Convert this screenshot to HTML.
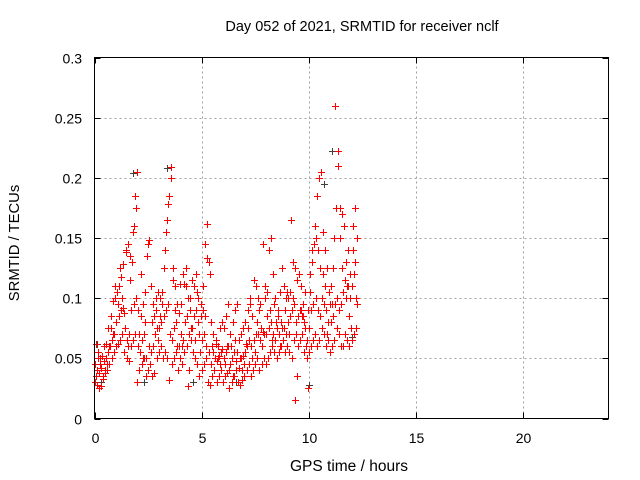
<!DOCTYPE html>
<html><head><meta charset="utf-8"><style>
body{margin:0;background:#fff;}
svg{display:block;font-family:"Liberation Sans",sans-serif;}
</style></head><body>
<svg id="chart" width="640" height="480">
<rect width="640" height="480" fill="#fff"/>
<text x="362" y="31" font-size="14.5" text-anchor="middle">Day 052 of 2021, SRMTID for receiver nclf</text>
<text x="349" y="471" font-size="15.5" text-anchor="middle">GPS time / hours</text>
<text transform="translate(19,243) rotate(-90)" font-size="14.8" text-anchor="middle">SRMTID / TECUs</text>
<g id="grid"></g><g id="axes"></g><g id="pts"></g>
<rect x="94.5" y="57.5" width="514" height="361" fill="none" stroke="#000"/>
</svg>
<script>
const xTicks=[0,5,10,15,20];
const yTicks=[0,0.05,0.1,0.15,0.2,0.25,0.3];
const yTickLabels=["0","0.05","0.1","0.15","0.2","0.25","0.3"];
const sampleStartHour=0, sampleStepHour=0.1, valueScale=0.001;
const bandLow=[30,28,25,27,35,38,40,45,50,55,60,62,65,70,55,50,48,60,65,70,30,40,45,50,35,40,45,35,38,50,55,60,50,55,50,32,45,50,55,40,50,45,55,60,40,65,55,50,45,35,40,45,50,30,28,35,40,30,35,40,30,35,38,25,30,35,40,30,28,32,35,40,45,35,40,45,50,40,45,50,45,50,55,60,55,50,55,60,65,55,60,55,50,65,70,60,65,70,55,50,55,60,65,70,60,65,75,70,60,65,55,60,65,75,70,60,60,70,65,60,65,70,75];
const bandMid=[45,40,38,42,48,50,55,60,65,70,80,85,90,92,75,65,70,90,95,100,60,55,65,70,50,60,55,60,70,75,75,80,85,90,95,70,65,75,80,60,70,65,80,85,70,75,85,90,80,55,65,70,60,55,45,55,50,48,52,55,50,55,60,45,50,55,48,42,50,52,55,60,65,60,65,70,70,65,60,70,70,75,80,70,65,75,70,80,75,70,80,85,90,95,80,85,90,85,75,65,75,90,95,100,90,85,100,95,90,80,80,85,95,100,90,95,105,100,110,100,110,120,100];
const bandHigh=[62,55,50,52,60,62,75,85,98,100,105,110,118,128,138,145,135,130,160,175,90,85,95,105,135,148,110,95,100,105,100,105,125,155,178,200,115,110,95,88,95,120,110,100,90,115,110,120,100,95,110,145,162,130,80,70,65,60,75,80,75,85,95,70,80,90,95,65,70,75,80,90,100,85,115,110,100,95,145,110,105,140,150,120,100,90,105,125,110,100,100,105,130,125,115,120,110,95,105,90,120,130,145,150,140,125,155,140,125,105,110,125,260,222,175,170,160,130,140,120,160,175,150];
const bandScatter=[35,50,45,33,40,45,60,75,70,110,95,125,100,88,140,60,115,155,185,205,70,120,50,80,145,45,80,85,90,65,85,95,140,165,185,209,125,90,60,112,60,112,125,27,100,75,65,105,70,85,90,85,133,120,60,40,62,50,45,58,45,60,40,60,35,65,55,50,40,45,62,75,95,50,55,80,90,75,72,100,85,90,65,95,80,85,60,75,90,105,70,165,100,15,35,90,85,80,60,25,105,140,160,185,200,205,120,110,70,95,95,150,175,210,150,125,115,110,85,75,140,130,95];
const greyHours=[0.1,0.3,1.8,2.3,3.4,4.6,6.6,10.0,11.1,10.7,12.0];
const greyValues=[0.062,0.03,0.204,0.03,0.208,0.03,0.03,0.028,0.222,0.195,0.068];
const X0=94.5,X1=608.5,Y0=418.5,Y1=57.5;
const xs=h=>X0+(h/24)*(X1-X0);
const ys=v=>Y0-(v/0.3)*(Y0-Y1);
const NS="http://www.w3.org/2000/svg";
const grid=document.getElementById('grid'),axes=document.getElementById('axes'),pts=document.getElementById('pts');
function mk(tag,at,parent){const e=document.createElementNS(NS,tag);for(const k in at)e.setAttribute(k,at[k]);parent.appendChild(e);return e;}
yTicks.forEach((v,i)=>{const y=Math.round(ys(v))+0.5;
 if(i>0&&i<yTicks.length-1){const g=mk('line',{x1:X0,x2:X1,y1:y,y2:y,stroke:'#a0a0a0','stroke-dasharray':'2,3'},grid);
 
 }
 const t=mk('line',{x1:X0,x2:X0+6,y1:y,y2:y,stroke:'#000'},axes);
 
 
 const t2=mk('line',{x1:X1-6,x2:X1,y1:y,y2:y,stroke:'#000'},axes);
 
 
 const l=mk('text',{x:82,y:y+5,'font-size':14,'text-anchor':'end',fill:'#000'},axes);l.textContent=yTickLabels[i];
 
 });
xTicks.forEach((h,i)=>{const x=Math.round(xs(h))+0.5;
 if(i>0){const g=mk('line',{x1:x,x2:x,y1:Y0,y2:Y1,stroke:'#a0a0a0','stroke-dasharray':'2,3'},grid);
 
 }
 const t=mk('line',{x1:x,x2:x,y1:Y0,y2:Y0-6,stroke:'#000'},axes);
 
 
 const t2=mk('line',{x1:x,x2:x,y1:Y1,y2:Y1+6,stroke:'#000'},axes);
 
 
 const l=mk('text',{x:x,y:443,'font-size':14,'text-anchor':'middle',fill:'#000'},axes);l.textContent=String(h);
 
 });
function cross(h,v,col){const x=Math.round(xs(h))+0.5,y=Math.round(ys(v))+0.5;
 const p=mk('path',{d:`M${x-3.5} ${y}H${x+3.5}M${x} ${y-3.5}V${y+3.5}`,stroke:col,'stroke-width':1,fill:'none'},pts);
 return p;}
greyHours.forEach((h,i)=>{const p=cross(h,greyValues[i],'#404040');
 
 });
[bandLow,bandMid,bandHigh,bandScatter].forEach((arr,k)=>{
 arr.forEach((v,i)=>{const h=sampleStartHour+(i+k/4)*sampleStepHour;
  const p=cross(h,v*valueScale,'#ff0000');
  
  });});
</script>
</body></html>
